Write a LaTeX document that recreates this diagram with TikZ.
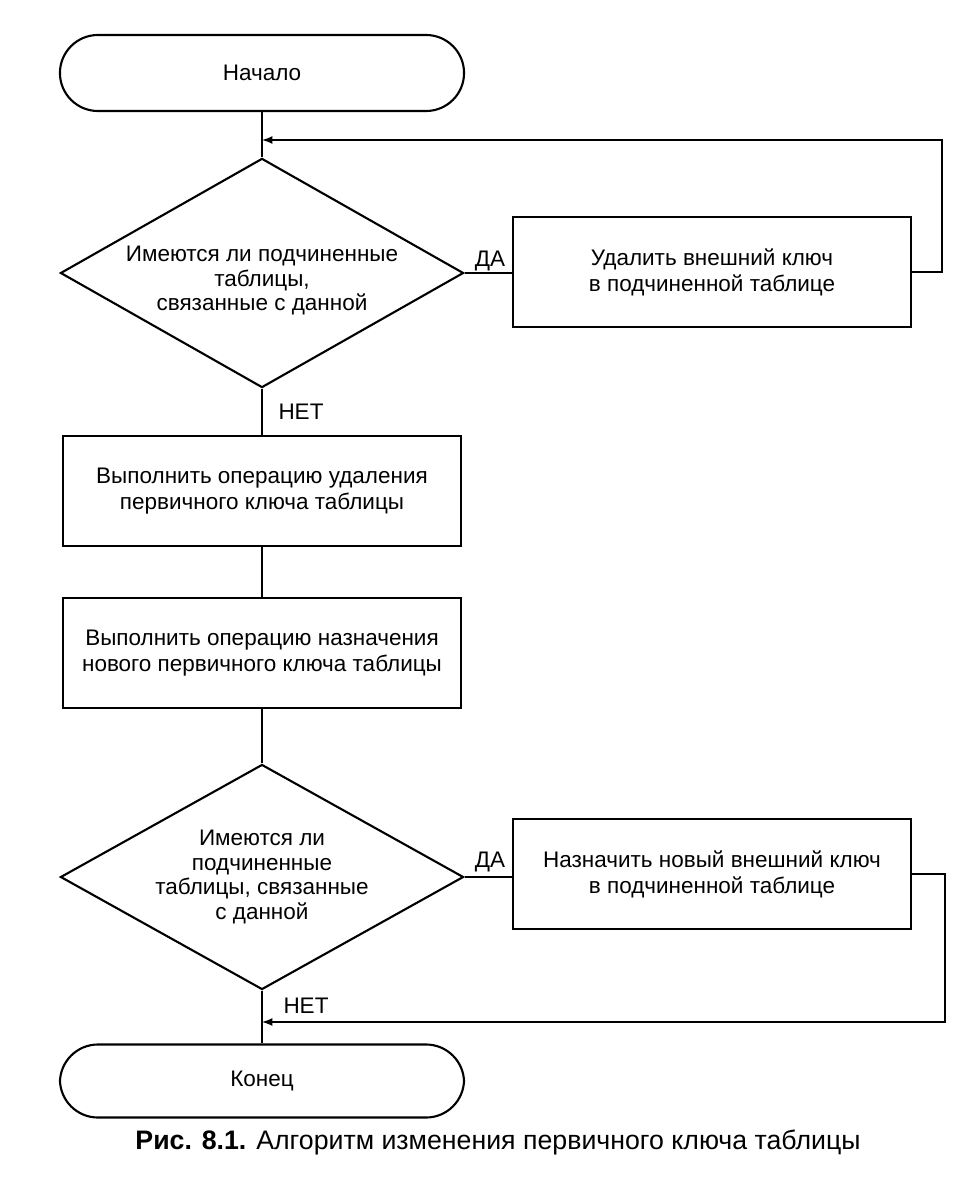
\documentclass[tikz,border=0pt]{standalone}
\usepackage{fontspec}
\setmainfont{Liberation Sans}
\usetikzlibrary{shapes.geometric,positioning}
\tikzset{
  term/.style={draw, rectangle, rounded corners=0.95cm, minimum width=10.1cm, minimum height=1.9cm},
  proc/.style={draw, rectangle, minimum width=9.95cm, minimum height=2.75cm, align=center},
  decide/.style={draw, diamond, minimum width=10.075cm, minimum height=5.625cm, inner xsep=-8mm, inner ysep=-8mm, align=center,
    font=\fontsize{16}{17.6}\selectfont},
  lbl/.style={inner sep=1pt}
}
\begin{document}
\begin{tikzpicture}[>=latex, line width=1.5pt, x=0.025cm, y=-0.025cm,
  every node/.style={font=\fontsize{16}{18.5}\selectfont}]
\useasboundingbox (0,0) rectangle (958,1196);
% Bloecke
\node[term]   (start) at (262,73)    {Начало};
\node[decide] (d1)    at (262,273)   {\rule{0pt}{22pt}Имеются ли подчиненные\\таблицы,\\связанные с данной};
\node[proc]   (b1)    at (712,272)   {Удалить внешний ключ\\в подчиненной таблице};
\node[proc]   (b2)    at (262,491)   {Выполнить операцию удаления\\первичного ключа таблицы};
\node[proc]   (b3)    at (262,653)   {Выполнить операцию назначения\\нового первичного ключа таблицы};
\node[decide] (d2)    at (262,877)   {Имеются ли\\подчиненные\\таблицы, связанные\\с данной};
\node[proc]   (b4)    at (712,874)   {Назначить новый внешний ключ\\в подчиненной таблице};
\node[term, minimum height=1.825cm] (stop) at (262,1081) {Конец};
% Einmuendungen der Schleifen
\coordinate (j1) at (262,140);
\coordinate (j2) at (262,1022);
% Linien
\draw (start) -- (d1);
\draw (d1) -- (b2);
\draw (b2) -- (b3);
\draw (b3) -- (d2);
\draw (d2) -- (stop);
\draw (d1.east) -- (d1.east -| b1.west);
\draw (d2.east) -- (d2.east -| b4.west);
\draw[->] (b1.east) -- ++(30,0) |- (j1);
\draw[->] (b4.east) -- ++(33,0) |- (j2);
% ДА / НЕТ
\node[lbl] (yes1) at (490,261)  {ДА};
\node[lbl] (yes2) at (490,862)  {ДА};
\node[lbl] (no1)  at (301,412)  {НЕТ};
\node[lbl] (no2)  at (306,1006) {НЕТ};
% Unterschrift
\node (caption) at (498,1142) {\fontsize{19}{22}\selectfont\textbf{Рис. 8.1.} Алгоритм изменения первичного ключа таблицы};
\end{tikzpicture}
\end{document}
